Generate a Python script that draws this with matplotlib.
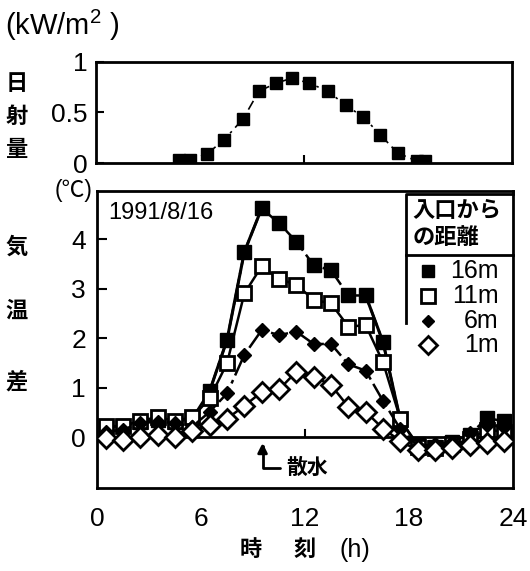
import matplotlib
matplotlib.use('Agg')
import matplotlib.pyplot as plt

plt.rcParams['font.family'] = ['Liberation Sans', 'Noto Sans CJK JP']
plt.rcParams['mathtext.fontset'] = 'custom'
plt.rcParams['mathtext.rm'] = 'Liberation Sans'
plt.rcParams['mathtext.it'] = 'Liberation Sans'

# solar radiation (kW/m2)
sun_hours = [4.8, 5.4, 6.4, 7.4, 8.5, 9.4, 10.4, 11.3, 12.3, 13.4, 14.4, 15.4, 16.4, 17.4, 18.5, 19.0]
sun_vals = [0.03, 0.03, 0.09, 0.23, 0.44, 0.71, 0.79, 0.84, 0.79, 0.71, 0.57, 0.46, 0.28, 0.10, 0.02, 0.02]

# air temperature difference (deg C)
hours = [h + 0.5 for h in range(24)]
t16 = [0.20, 0.22, 0.30, 0.35, 0.30, 0.38, 0.93, 1.96, 3.74, 4.62, 4.32, 3.95,
       3.47, 3.37, 2.86, 2.86, 1.92, 0.34, -0.15, -0.20, -0.10, 0.05, 0.38, 0.32]
t11 = [0.22, 0.22, 0.33, 0.40, 0.33, 0.40, 0.78, 1.49, 2.90, 3.45, 3.19, 3.08,
       2.77, 2.70, 2.23, 2.26, 1.51, 0.36, -0.20, -0.22, -0.15, -0.05, 0.15, 0.10]
t6 = [0.10, 0.15, 0.28, 0.31, 0.28, 0.21, 0.51, 0.88, 1.66, 2.16, 2.06, 2.13,
      1.88, 1.88, 1.47, 1.34, 0.73, 0.16, -0.18, -0.15, -0.10, 0.08, 0.25, 0.20]
t1 = [-0.03, -0.07, 0.00, 0.05, 0.00, 0.12, 0.24, 0.37, 0.63, 0.91, 0.96, 1.32,
      1.22, 1.05, 0.61, 0.51, 0.17, -0.08, -0.27, -0.27, -0.23, -0.16, -0.13, -0.09]

legend_labels = ['16m', '11m', '6m', '1m']

fig = plt.figure(figsize=(5.30, 5.71), dpi=100)
ax1 = fig.add_axes([0.181, 0.7145, 0.785, 0.177])
ax2 = fig.add_axes([0.183, 0.1454, 0.785, 0.520])

# top panel
ax1.plot(sun_hours, sun_vals, color='black', lw=1.2, ls=(0, (6, 3, 1.5, 3)),
         marker='s', ms=8, mfc='black', mec='black')
ax1.set_xlim(0, 24)
ax1.set_ylim(0, 1)
ax1.set_xticks([12])
ax1.set_xticklabels([])
ax1.set_yticks([0, 0.5, 1])
ax1.set_yticklabels(['0', '0.5', '1'])
ax1.tick_params(direction='in', length=6, width=1.5, labelsize=19, pad=6)
for s in ax1.spines.values():
    s.set_linewidth(2)

# bottom panel
dashdot = (0, (7, 2, 1.5, 2))
ax2.axhline(0, color='black', lw=2, zorder=1)
ax2.plot(hours, t16, color='black', lw=1.8, ls=dashdot,
         marker='s', ms=9.5, mfc='black', mec='black', zorder=3)
# solid parts of the 16m line (rise and final drop)
ax2.plot(hours[6:10], t16[6:10], color='black', lw=2.2, ls='-', zorder=3)
ax2.plot(hours[15:18], t16[15:18], color='black', lw=2.2, ls='-', zorder=3)
ax2.plot(hours, t11, color='black', lw=1.8, ls='-',
         marker='s', ms=10.5, mfc='white', mec='black', mew=2, zorder=4)
ax2.plot(hours, t6, color='black', lw=1.8, ls=dashdot,
         marker='D', ms=7, mfc='black', mec='black', zorder=5)
ax2.plot(hours, t1, color='black', lw=1.8, ls='-',
         marker='D', ms=10, mfc='white', mec='black', mew=2, zorder=6)
ax2.set_xlim(0, 24)
ax2.set_ylim(-1.03, 4.97)
ax2.set_xticks([0, 6, 12, 18, 24])
ax2.set_yticks([0, 1, 2, 3, 4])
ax2.tick_params(axis='y', direction='in', length=7, width=1.5, labelsize=19, pad=8)
ax2.tick_params(axis='x', length=0, labelsize=19, pad=14)
ax2.axvline(12, ymin=1.03 / 6.0, ymax=1.03 / 6.0 + 0.025, color='black', lw=1.5)
for s in ax2.spines.values():
    s.set_linewidth(2)

ax2.text(0.026, 0.926, '1991/8/16', transform=ax2.transAxes, fontsize=17,
         ha='left', va='center')

ax2.annotate('散水', xy=(9.55, -0.12), xytext=(10.9, -0.62), fontsize=15,
             fontweight='bold', ha='left', va='center',
             arrowprops=dict(arrowstyle='-|>', color='black', lw=2,
                             connectionstyle='angle,angleA=0,angleB=90,rad=0',
                             shrinkA=2, shrinkB=0, mutation_scale=14))

# legend box
lx0 = (406 - 97) / 416
ax2.plot([lx0, lx0, 1], [0.555, 0.99, 0.99], transform=ax2.transAxes,
         color='black', lw=2, clip_on=False)
ax2.plot([lx0, 1], [0.785, 0.785], transform=ax2.transAxes,
         color='black', lw=2, clip_on=False)
ax2.text(lx0 + 0.015, 0.93, '入口から', transform=ax2.transAxes, fontsize=16,
         fontweight='bold', ha='left', va='center')
ax2.text(lx0 + 0.015, 0.84, 'の距離', transform=ax2.transAxes, fontsize=16,
         fontweight='bold', ha='left', va='center')
key_styles = [dict(marker='s', ms=8, mfc='black', mec='black'),
              dict(marker='s', ms=10, mfc='white', mec='black', mew=2),
              dict(marker='D', ms=6.5, mfc='black', mec='black'),
              dict(marker='D', ms=9, mfc='white', mec='black', mew=2)]
key_y = [0.732, 0.648, 0.564, 0.48]
for lab, st, ky in zip(legend_labels, key_styles, key_y):
    ax2.plot([0.795], [ky], transform=ax2.transAxes, ls='none', clip_on=False, **st)
    ax2.text(0.965, ky, lab, transform=ax2.transAxes, fontsize=18,
             ha='right', va='center')

# axis labels
fig.text(0.01, 0.955, '(kW/m$^{2}$ )', fontsize=21, ha='left', va='center')
fig.text(0.174, 0.666, '(℃)', fontsize=16.5, ha='right', va='center')
for ch, y in zip('日射量', [85, 117, 150]):
    fig.text(0.032, 1 - y / 571, ch, fontsize=16, fontweight='bold',
             ha='center', va='center')
for ch, y in zip('気温差', [248, 312, 383]):
    fig.text(0.032, 1 - y / 571, ch, fontsize=16, fontweight='bold',
             ha='center', va='center')
fig.text(0.473, 1 - 550 / 571, '時', fontsize=16, fontweight='bold',
         ha='center', va='center')
fig.text(0.575, 1 - 550 / 571, '刻', fontsize=16, fontweight='bold',
         ha='center', va='center')
fig.text(0.67, 1 - 550 / 571, '(h)', fontsize=18, ha='center', va='center')

fig.savefig('out.png', dpi=100)
